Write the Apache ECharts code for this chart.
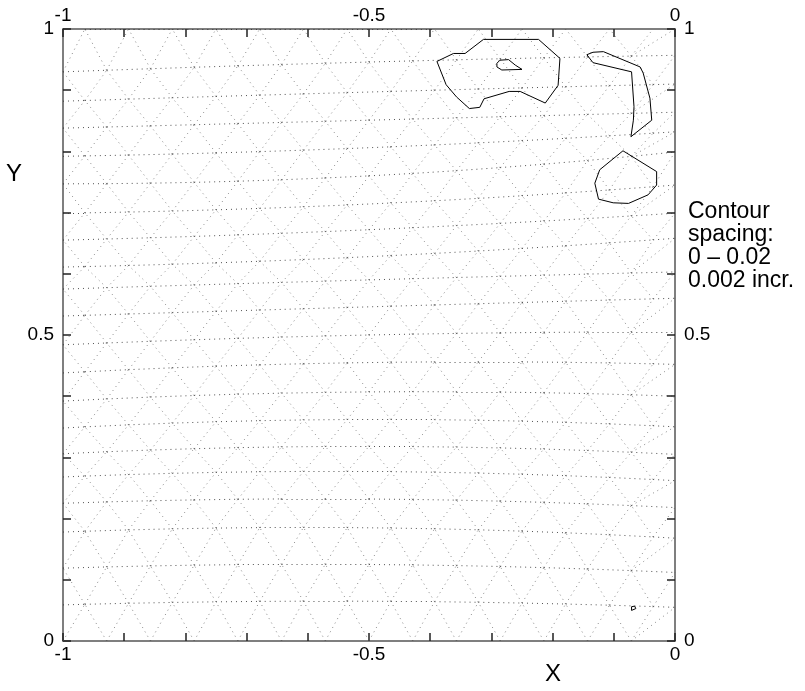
<!DOCTYPE html>
<html><head><meta charset="utf-8">
<script src="https://cdn.jsdelivr.net/npm/echarts@6/dist/echarts.min.js"></script>
<style>html,body{margin:0;padding:0;background:#fff}#c{width:805px;height:691px}</style>
</head><body><div id="c"></div>
<script>
// ---- tick labels ----
const xTickLabels = [-1, -0.5, 0];
const yTickLabels = [0, 0.5, 1];

// ---- mesh (triangulated grid) rows: y at x=-1, x=-0.5, x=0 ----
const meshRowsLeft  = [0, 0.059, 0.119, 0.178, 0.225, 0.268, 0.306, 0.348, 0.392, 0.438, 0.484, 0.531, 0.575, 0.611, 0.655, 0.699, 0.747, 0.792, 0.838, 0.882, 0.930, 1];
const meshRowsMid   = [0, 0.065, 0.125, 0.185, 0.232, 0.277, 0.318, 0.362, 0.407, 0.455, 0.500, 0.546, 0.590, 0.628, 0.672, 0.714, 0.760, 0.806, 0.851, 0.897, 0.946, 1];
const meshRowsRight = [0, 0.055, 0.112, 0.168, 0.218, 0.262, 0.305, 0.350, 0.400, 0.452, 0.505, 0.560, 0.603, 0.658, 0.699, 0.745, 0.799, 0.832, 0.864, 0.910, 0.957, 1];
const meshColsEven = [-1, -0.9286, -0.8571, -0.7857, -0.7143, -0.6429, -0.5714, -0.5, -0.4286, -0.3571, -0.2857, -0.2143, -0.1429, -0.0714, 0];
const meshColsOdd  = [-1, -0.9643, -0.8929, -0.8214, -0.75, -0.6786, -0.6071, -0.5357, -0.4643, -0.3929, -0.3214, -0.25, -0.1786, -0.1071, -0.0357, 0];

// ---- contour lines ----
const contourA = [[-0.389,0.947],[-0.374,0.909],[-0.357,0.889],[-0.336,0.870],[-0.319,0.872],[-0.312,0.886],[-0.271,0.898],[-0.253,0.898],[-0.212,0.879],[-0.191,0.908],[-0.188,0.952],[-0.223,0.983],[-0.313,0.983],[-0.343,0.960],[-0.362,0.960],[-0.389,0.947]];
const contourA2 = [[-0.291,0.944],[-0.286,0.949],[-0.272,0.950],[-0.261,0.941],[-0.250,0.934],[-0.283,0.933],[-0.291,0.938],[-0.291,0.944]];
const contourB = [[-0.144,0.958],[-0.134,0.962],[-0.117,0.963],[-0.057,0.938],[-0.052,0.928],[-0.041,0.887],[-0.038,0.851],[-0.072,0.824],[-0.068,0.851],[-0.067,0.873],[-0.071,0.930],[-0.134,0.945],[-0.144,0.958]];
const contourC = [[-0.085,0.801],[-0.030,0.767],[-0.030,0.745],[-0.044,0.729],[-0.076,0.715],[-0.101,0.716],[-0.125,0.722],[-0.131,0.748],[-0.123,0.770],[-0.085,0.801]];
const contourD = [[-0.071,0.056],[-0.066,0.057],[-0.064,0.053],[-0.066,0.050],[-0.071,0.050],[-0.073,0.053],[-0.071,0.056]];

function rowY(r, x) {
  const a = meshRowsLeft[r], b = meshRowsMid[r], c = meshRowsRight[r];
  const L0 = (x + 0.5) * x / 0.5;
  const L1 = -(x + 1) * x / 0.25;
  const L2 = (x + 1) * (x + 0.5) / 0.5;
  return a * L0 + b * L1 + c * L2;
}
const nodes = meshRowsLeft.map((_, r) => (r % 2 === 0 ? meshColsEven : meshColsOdd).map(x => [x, rowY(r, x)]));
const hEdges = [], dEdges = [];
function onBoundary(p, q) {
  return (p[0] === q[0] && (p[0] === -1 || p[0] === 0)) || (p[1] === q[1] && (p[1] === 0 || p[1] === 1));
}
function addEdge(list, p, q) { if (!onBoundary(p, q)) list.push({ coords: [p, q] }); }
nodes.forEach(row => { for (let i = 0; i < row.length - 1; i++) addEdge(hEdges, row[i], row[i + 1]); });
for (let r = 0; r < nodes.length - 1; r++) {
  const A = nodes[r], B = nodes[r + 1];
  let i = 0, j = 0;
  addEdge(dEdges, A[0], B[0]);
  while (i < A.length - 1 || j < B.length - 1) {
    if (i === A.length - 1) j++;
    else if (j === B.length - 1) i++;
    else if (A[i + 1][0] < B[j + 1][0]) i++;
    else j++;
    addEdge(dEdges, A[i], B[j]);
  }
}

const FONT = 'Liberation Sans, Arial, Helvetica, sans-serif';
function fmt(list) {
  return v => { for (const t of list) if (Math.abs(v - t) < 1e-6) return String(t); return ''; };
}
function axis(kind, pos) {
  const isX = kind === 'x';
  return {
    type: 'value', position: pos,
    min: isX ? -1 : 0, max: isX ? 0 : 1, interval: 0.1,
    splitLine: { show: false },
    axisLine: { show: true, onZero: false, lineStyle: { color: '#555', width: 1.5 } },
    axisTick: { show: true, inside: true, length: 8, lineStyle: { color: '#222', width: 1.5 } },
    axisLabel: { show: true, margin: isX ? 4 : 9, fontSize: 19, color: '#000', fontFamily: FONT,
      showMinLabel: true, showMaxLabel: true, formatter: fmt(isX ? xTickLabels : yTickLabels) }
  };
}
function contourSeries(data) {
  return { type: 'line', data: data, xAxisIndex: 0, yAxisIndex: 0, showSymbol: false, symbol: 'none',
    lineStyle: { color: '#000', width: 1 }, z: 5, silent: true, animation: false };
}

const chart = echarts.init(document.getElementById('c'), null, { renderer: 'canvas' });
chart.setOption({
  animation: false,
  backgroundColor: '#fff',
  grid: { left: 63, top: 29, width: 612, height: 612, containLabel: false },
  xAxis: [axis('x', 'bottom'), axis('x', 'top')],
  yAxis: [axis('y', 'left'), axis('y', 'right')],
  graphic: [
    { type: 'text', left: 545, top: 662, style: { text: 'X', fontSize: 24, fontFamily: FONT, fill: '#000' } },
    { type: 'text', left: 6, top: 162, style: { text: 'Y', fontSize: 24, fontFamily: FONT, fill: '#000' } },
    { type: 'text', left: 688, top: 200, style: { text: 'Contour\nspacing:\n0 \u2013 0.02\n0.002 incr.', fontSize: 23, lineHeight: 23, fontFamily: FONT, fill: '#000' } }
  ],
  series: [
    { type: 'lines', coordinateSystem: 'cartesian2d', xAxisIndex: 0, yAxisIndex: 0, polyline: false,
      data: hEdges, silent: true, z: 1,
      lineStyle: { color: '#333', width: 1, type: [1, 4], opacity: 0.85 } },
    { type: 'lines', coordinateSystem: 'cartesian2d', xAxisIndex: 0, yAxisIndex: 0, polyline: false,
      data: dEdges, silent: true, z: 1,
      lineStyle: { color: '#555', width: 1, type: [1, 4], opacity: 0.7 } },
    contourSeries(contourA), contourSeries(contourA2), contourSeries(contourB),
    contourSeries(contourC), contourSeries(contourD)
  ]
});
</script></body></html>
